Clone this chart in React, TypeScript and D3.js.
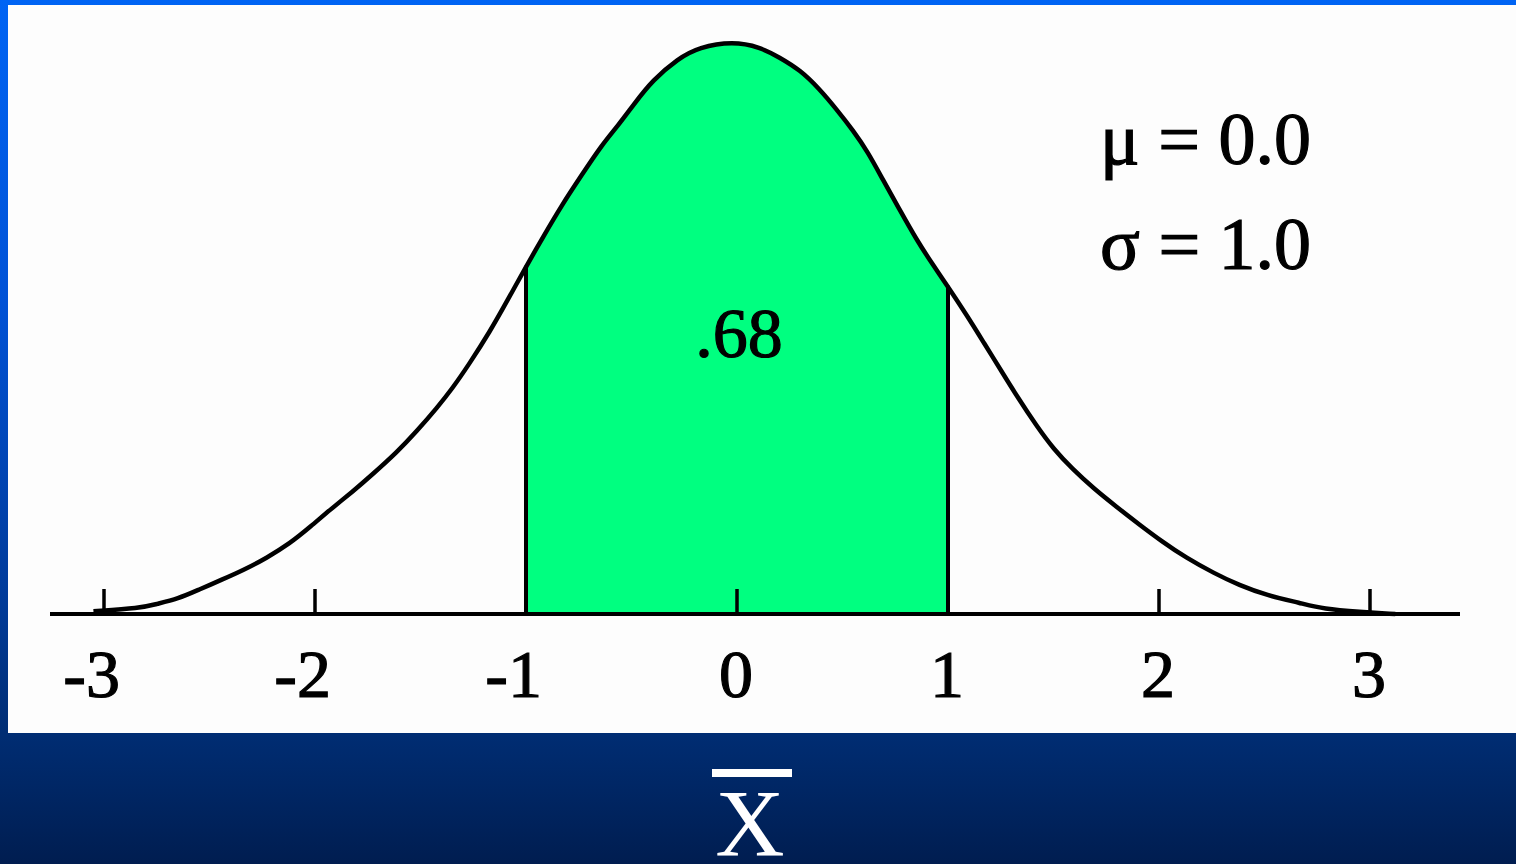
import React from 'react';
import * as d3 from 'd3';

// curve: z value and density
const curveZ = [-3.05, -2.83, -2.75, -2.65, -2.55, -2.44, -2.34, -2.23, -2.12, -2.02, -1.93, -1.82, -1.73, -1.61, -1.52, -1.42, -1.35, -1.27, -1.17, -1.09, -1.0, -0.92, -0.83, -0.74, -0.64, -0.56, -0.49, -0.40, -0.28, -0.18, -0.02, 0.11, 0.20, 0.30, 0.39, 0.47, 0.55, 0.62, 0.69, 0.77, 0.85, 0.93, 1.0, 1.09, 1.17, 1.25, 1.33, 1.42, 1.50, 1.59, 1.69, 1.80, 1.91, 2.01, 2.13, 2.26, 2.38, 2.51, 2.67, 2.78, 2.95, 3.12];
const curveDensity = [0.002, 0.004, 0.007, 0.0105, 0.017, 0.024, 0.0305, 0.039, 0.049, 0.061, 0.0725, 0.0855, 0.097, 0.113, 0.127, 0.144, 0.157, 0.174, 0.197, 0.218, 0.242, 0.2625, 0.285, 0.305, 0.327, 0.341, 0.355, 0.372, 0.387, 0.395, 0.399, 0.395, 0.388, 0.379, 0.366, 0.352, 0.337, 0.322, 0.303, 0.282, 0.261, 0.243, 0.228, 0.208, 0.189, 0.170, 0.151, 0.131, 0.115, 0.101, 0.0875, 0.0745, 0.062, 0.051, 0.039, 0.0285, 0.020, 0.013, 0.0077, 0.0035, 0.0015, 0.0];

const tickValues = [-3, -2, -1, 0, 1, 2, 3];
const tickLabels = ['-3', '-2', '-1', '0', '1', '2', '3'];

const shadeFrom = -1;
const shadeTo = 1;
const shadeLabel = '.68';
const paramLines = ['\u03bc = 0.0', '\u03c3 = 1.0'];
const axisTitle = 'X';

const W = 1516;
const H = 864;
const baseY = 614;
const serif = '"Liberation Serif", "Times New Roman", serif';

export default function App() {
  const x = d3.scaleLinear().domain([-3, 3]).range([104, 1370]);
  const y = d3.scaleLinear().domain([0, 0.4]).range([baseY, 40]);

  const pts: [number, number][] = curveZ.map((z, i) => [z, curveDensity[i]]);
  const shaded = pts.filter((p) => p[0] >= shadeFrom && p[0] <= shadeTo);

  const line = d3.line<[number, number]>()
    .x((d) => x(d[0]))
    .y((d) => y(d[1]))
    .curve(d3.curveBasis);

  const area = d3.area<[number, number]>()
    .x((d) => x(d[0]))
    .y0(y(0))
    .y1((d) => y(d[1]))
    .curve(d3.curveBasis);

  const edges = [shaded[0], shaded[shaded.length - 1]];

  return (
    <svg width={W} height={H} style={{ position: 'absolute', left: 0, top: 0, display: 'block' }}>
      <defs>
        <linearGradient id="bg" x1="0" y1="0" x2="0" y2="1">
          <stop offset="0" stopColor="#0064f4" />
          <stop offset="0.35" stopColor="#0052d6" />
          <stop offset="0.7" stopColor="#003a98" />
          <stop offset="0.85" stopColor="#002d73" />
          <stop offset="1" stopColor="#001d50" />
        </linearGradient>
      </defs>
      <rect x={0} y={0} width={W} height={H} fill="url(#bg)" />
      <rect x={8} y={5} width={W - 8} height={733 - 5} fill="#fdfdfd" />

      <path d={area(shaded) || ''} fill="#00ff80" />
      <path d={line(pts) || ''} fill="none" stroke="#000" strokeWidth={4.5} strokeLinejoin="round" />
      {edges.map((p, i) => (
        <line key={i} x1={x(p[0])} x2={x(p[0])} y1={y(0)} y2={y(p[1]) - 1} stroke="#000" strokeWidth={4} />
      ))}

      <line x1={50} x2={1460} y1={baseY} y2={baseY} stroke="#000" strokeWidth={4} />
      {tickValues.map((t, i) => (
        <g key={t}>
          <line x1={x(t)} x2={x(t)} y1={baseY - 25} y2={baseY} stroke="#000" strokeWidth={3.5} />
          <text
            x={x(t) + 16}
            y={697}
            textAnchor="end"
            fontFamily={serif}
            fontSize={68}
            fill="#000"
            stroke="#000"
            strokeWidth={1.2}
          >
            {tickLabels[i]}
          </text>
        </g>
      ))}

      <text x={x(0) + 2} y={357} textAnchor="middle" fontFamily={serif} fontSize={70} fill="#000" stroke="#000" strokeWidth={1.2}>
        {shadeLabel}
      </text>

      {paramLines.map((s, i) => (
        <text key={s} x={1100} y={164 + i * 105} fontFamily={serif} fontSize={74} fill="#000" stroke="#000" strokeWidth={1.2}>
          {s}
        </text>
      ))}

      <rect x={712} y={769} width={80} height={8} fill="#fff" />
      <text x={750} y={856} textAnchor="middle" fontFamily={serif} fontSize={96} fill="#fff">
        {axisTitle}
      </text>
    </svg>
  );
}
